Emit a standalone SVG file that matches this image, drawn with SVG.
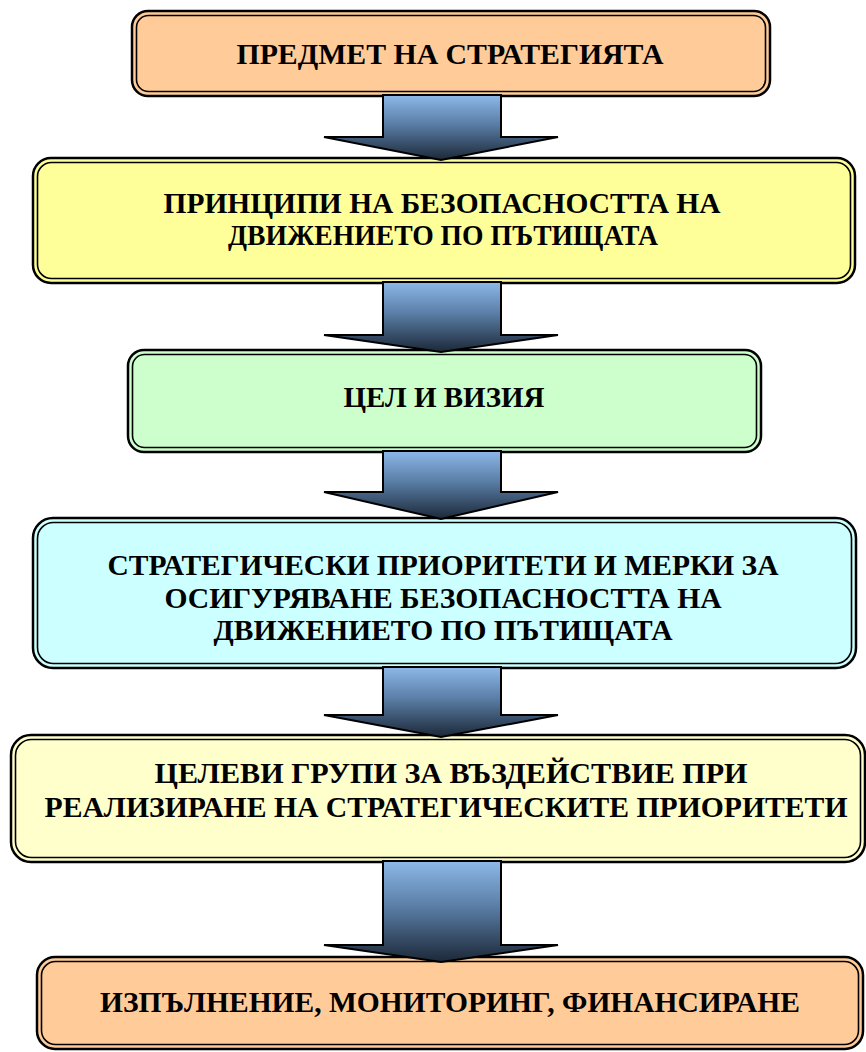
<svg xmlns="http://www.w3.org/2000/svg" width="866" height="1052" viewBox="0 0 866 1052">
<defs>
<linearGradient id="ag" x1="0" y1="0" x2="0" y2="1">
<stop offset="0" stop-color="#8DB8E8"/>
<stop offset="0.45" stop-color="#5A7EA6"/>
<stop offset="1" stop-color="#1C2838"/>
</linearGradient>
</defs>
<style>
.o{stroke:#000;stroke-width:2.5}
.i{fill:none;stroke:#000;stroke-width:1.6}
.arr{fill:url(#ag);stroke:#000;stroke-width:2;stroke-linejoin:miter}
text{font-family:"Liberation Serif","Times New Roman",serif;font-weight:bold;font-size:30px;fill:#000;text-anchor:middle}
</style>
<rect width="866" height="1052" fill="#fff"/>
<g id="box1">
<rect class="o" x="132" y="11" width="638" height="85" rx="16" fill="#FFCC99"/>
<rect class="i" x="136.5" y="15.5" width="629" height="76" rx="12"/>
<text x="450" y="64" textLength="427" lengthAdjust="spacingAndGlyphs">ПРЕДМЕТ НА СТРАТЕГИЯТА</text>
</g>
<g id="box2">
<rect class="o" x="33" y="158" width="822" height="125" rx="18" fill="#FFFF99"/>
<rect class="i" x="37.5" y="162.5" width="813" height="116" rx="14"/>
<text x="442" y="213" textLength="557" lengthAdjust="spacingAndGlyphs">ПРИНЦИПИ НА БЕЗОПАСНОСТТА НА</text>
<text x="443" y="245" textLength="430" lengthAdjust="spacingAndGlyphs">ДВИЖЕНИЕТО ПО ПЪТИЩАТА</text>
</g>
<g id="box3">
<rect class="o" x="128" y="350" width="633" height="102" rx="16" fill="#CCFFCC"/>
<rect class="i" x="132.5" y="354.5" width="624" height="93" rx="12"/>
<text x="444" y="407" textLength="201" lengthAdjust="spacingAndGlyphs">ЦЕЛ И ВИЗИЯ</text>
</g>
<g id="box4">
<rect class="o" x="33" y="518" width="823" height="150" rx="20" fill="#CCFFFF"/>
<rect class="i" x="37.5" y="522.5" width="814" height="141" rx="16"/>
<text x="443" y="575" textLength="671" lengthAdjust="spacingAndGlyphs">СТРАТЕГИЧЕСКИ ПРИОРИТЕТИ И МЕРКИ ЗА</text>
<text x="443" y="608" textLength="557" lengthAdjust="spacingAndGlyphs">ОСИГУРЯВАНЕ БЕЗОПАСНОСТТА НА</text>
<text x="443" y="640" textLength="459" lengthAdjust="spacingAndGlyphs">ДВИЖЕНИЕТО ПО ПЪТИЩАТА</text>
</g>
<g id="box5">
<rect class="o" x="11" y="735" width="854" height="127" rx="20" fill="#FFFFCC"/>
<rect class="i" x="15.5" y="739.5" width="845" height="118" rx="16"/>
<text x="451" y="783" textLength="593" lengthAdjust="spacingAndGlyphs">ЦЕЛЕВИ ГРУПИ ЗА ВЪЗДЕЙСТВИЕ ПРИ</text>
<text x="446" y="817" textLength="803" lengthAdjust="spacingAndGlyphs">РЕАЛИЗИРАНЕ НА СТРАТЕГИЧЕСКИТЕ ПРИОРИТЕТИ</text>
</g>
<g id="box6">
<rect class="o" x="37" y="957" width="826" height="92" rx="18" fill="#FFCC99"/>
<rect class="i" x="41.5" y="961.5" width="817" height="83" rx="14"/>
<text x="450" y="1012" textLength="700" lengthAdjust="spacingAndGlyphs">ИЗПЪЛНЕНИЕ, МОНИТОРИНГ, ФИНАНСИРАНЕ</text>
</g>
<g id="connectors">
<path class="arr" d="M383,95 H501 V137 H558 L441,160 L324,137 H383 Z"/>
<path class="arr" d="M383,282 H501 V335 H558 L441,352 L324,335 H383 Z"/>
<path class="arr" d="M383,451 H501 V492 H558 L441,519 L324,492 H383 Z"/>
<path class="arr" d="M383,667 H501 V715 H558 L441,737 L324,715 H383 Z"/>
<path class="arr" d="M383,861 H501 V945 H558 L441,962 L324,945 H383 Z"/>
</g>
</svg>
